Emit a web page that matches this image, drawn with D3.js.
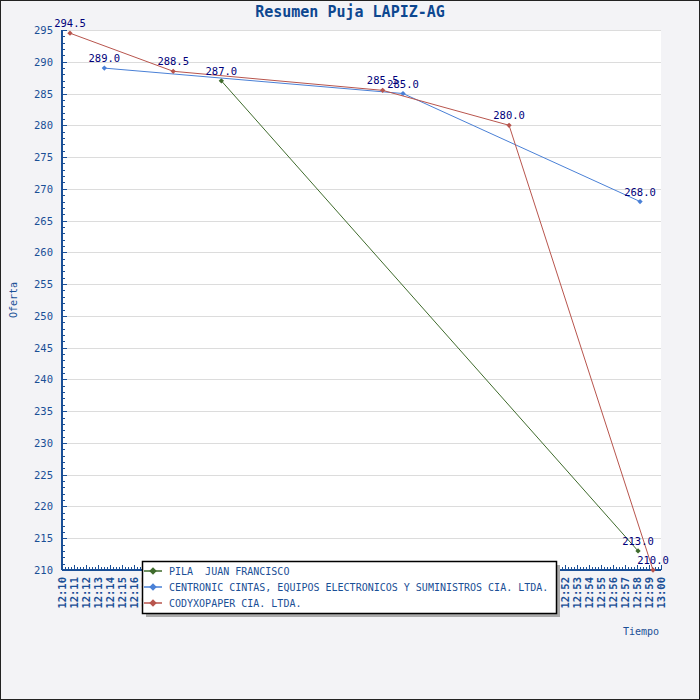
<!DOCTYPE html>
<html>
<head>
<meta charset="utf-8">
<script src="https://cdn.jsdelivr.net/npm/d3@7"></script>
<style>
  body { margin: 0; background: #fff; }
  text { font-family: "DejaVu Sans Mono", monospace; white-space: pre; }
</style>
</head>
<body>
<div id="chart"></div>
<script>
// series data (time of bid, amount)
const seriesNames = [
  'PILA  JUAN FRANCISCO',
  'CENTRONIC CINTAS, EQUIPOS ELECTRONICOS Y SUMINISTROS CIA. LTDA.',
  'CODYXOPAPER CIA. LTDA.'
]
const pilaTimes = ['12:23:18', '12:58:05']
const pilaValues = [287.0, 213.0]
const centronicTimes = ['12:13:32', '12:38:28', '12:58:15']
const centronicValues = [289.0, 285.0, 268.0]
const codyxoTimes = ['12:10:40', '12:19:17', '12:36:46', '12:47:19', '12:59:20']
const codyxoValues = [294.5, 288.5, 285.5, 280.0, 210.0]

const timeDomain = ['12:10:00', '13:00:00']
const valueDomain = [210, 295]

// config
const width = 700
const height = 700
const margin = { top: 30, right: 39, bottom: 130, left: 62 }
const colors = ['#3f6b2c', '#4a80d6', '#b8554d']
const axisColor = '#1a4f96'
const labelColor = '#00007a'

const parse = d3.timeParse('%H:%M:%S')
const series = [
  { times: pilaTimes, values: pilaValues },
  { times: centronicTimes, values: centronicValues },
  { times: codyxoTimes, values: codyxoValues }
].map((s, i) => ({
  name: seriesNames[i],
  color: colors[i],
  points: s.times.map((t, j) => ({ t: parse(t), v: s.values[j] }))
}))

const svg = d3.select('#chart').append('svg')
  .attr('width', width)
  .attr('height', height)

svg.append('rect')
  .attr('width', width).attr('height', height)
  .attr('fill', '#f3f3f6')
  .attr('stroke', '#222').attr('stroke-width', 2)

const x = d3.scaleTime()
  .domain(timeDomain.map(parse))
  .range([margin.left, width - margin.right])
const y = d3.scaleLinear()
  .domain(valueDomain)
  .range([height - margin.bottom, margin.top])

// plot area
svg.append('rect')
  .attr('x', margin.left).attr('y', margin.top)
  .attr('width', x.range()[1] - margin.left)
  .attr('height', y.range()[0] - margin.top)
  .attr('fill', '#fff')

// grid
svg.append('g')
  .selectAll('line')
  .data(d3.range(215, 296, 5))
  .join('line')
  .attr('x1', margin.left).attr('x2', x.range()[1])
  .attr('y1', d => Math.round(y(d)) + 0.5).attr('y2', d => Math.round(y(d)) + 0.5)
  .attr('stroke', '#dcdcdc')

// y axis
const yAxis = svg.append('g')
  .attr('transform', `translate(${margin.left},0)`)
yAxis.append('line')
  .attr('x1', 0).attr('x2', 0)
  .attr('y1', y.range()[1]).attr('y2', y.range()[0])
  .attr('stroke', axisColor).attr('stroke-width', 2)
yAxis.selectAll('line.tick')
  .data(d3.range(210, 296, 1))
  .join('line')
  .attr('class', 'tick')
  .attr('x1', 0).attr('x2', d => d % 5 === 0 ? 5 : 3)
  .attr('y1', d => Math.round(y(d)) + 0.5).attr('y2', d => Math.round(y(d)) + 0.5)
  .attr('stroke', axisColor)
yAxis.selectAll('text')
  .data(d3.range(210, 296, 5))
  .join('text')
  .attr('x', -9).attr('y', d => y(d) + 4)
  .attr('text-anchor', 'end')
  .attr('font-size', 10.5)
  .attr('fill', axisColor)
  .text(d => d)

// x axis
const xAxis = svg.append('g')
  .attr('transform', `translate(0,${y.range()[0]})`)
xAxis.append('line')
  .attr('x1', margin.left).attr('x2', x.range()[1])
  .attr('stroke', axisColor).attr('stroke-width', 2)
const minorTicks = d3.timeSecond.every(15).range(x.domain()[0], d3.timeSecond.offset(x.domain()[1], 1))
xAxis.selectAll('line.tick')
  .data(minorTicks)
  .join('line')
  .attr('class', 'tick')
  .attr('x1', d => Math.round(x(d)) + 0.5).attr('x2', d => Math.round(x(d)) + 0.5)
  .attr('y1', 0).attr('y2', d => d.getSeconds() === 0 ? -5 : -3)
  .attr('stroke', axisColor)
const majorTicks = d3.timeMinute.range(x.domain()[0], d3.timeSecond.offset(x.domain()[1], 1))
xAxis.selectAll('text')
  .data(majorTicks)
  .join('text')
  .attr('transform', d => `translate(${x(d) + 4},7) rotate(-90)`)
  .attr('text-anchor', 'end')
  .attr('font-size', 10.5)
  .attr('font-weight', 'bold')
  .attr('fill', axisColor)
  .text(d3.timeFormat('%H:%M'))

// axis titles
svg.append('text')
  .attr('transform', `translate(17,300) rotate(-90)`)
  .attr('text-anchor', 'middle')
  .attr('font-size', 10)
  .attr('fill', axisColor)
  .text('Oferta')
svg.append('text')
  .attr('x', 659).attr('y', 635)
  .attr('text-anchor', 'end')
  .attr('font-size', 10)
  .attr('fill', axisColor)
  .text('Tiempo')

// title
svg.append('text')
  .attr('x', 350).attr('y', 17)
  .attr('text-anchor', 'middle')
  .attr('font-size', 15)
  .attr('font-weight', 'bold')
  .attr('fill', '#0d4790')
  .text('Resumen Puja LAPIZ-AG')

// lines
const line = d3.line().x(d => x(d.t)).y(d => y(d.v))
const diamond = d3.symbol().type(d3.symbolDiamond)

series.forEach(s => {
  const g = svg.append('g')
  g.append('path')
    .datum(s.points)
    .attr('d', line)
    .attr('fill', 'none')
    .attr('stroke', s.color)
    .attr('stroke-width', 1)
  g.selectAll('path.mark')
    .data(s.points)
    .join('path')
    .attr('class', 'mark')
    .attr('d', d3.symbol().type(d3.symbolSquare).size(14))
    .attr('transform', d => `translate(${x(d.t)},${y(d.v)}) rotate(45)`)
    .attr('fill', s.color)
})

// value labels on top
series.forEach(s => {
  svg.append('g')
    .selectAll('text')
    .data(s.points)
    .join('text')
    .attr('x', d => x(d.t))
    .attr('y', d => y(d.v) - 6)
    .attr('text-anchor', 'middle')
    .attr('font-size', 10.5)
    .attr('fill', labelColor)
    .text(d => d.v.toFixed(1))
})

// legend
const legend = svg.append('g').attr('transform', 'translate(142,561)')
legend.append('rect')
  .attr('x', 4).attr('y', 4).attr('width', 414).attr('height', 52)
  .attr('fill', '#aaa')
legend.append('rect')
  .attr('x', 0.5).attr('y', 0.5).attr('width', 414).attr('height', 52)
  .attr('fill', '#fff').attr('stroke', '#000').attr('stroke-width', 1.5)
const items = legend.selectAll('g.item')
  .data(series)
  .join('g')
  .attr('class', 'item')
  .attr('transform', (d, i) => `translate(0,${10 + i * 16})`)
items.append('line')
  .attr('x1', 2).attr('x2', 20)
  .attr('stroke', d => d.color).attr('stroke-width', 1.5)
items.append('path')
  .attr('d', d3.symbol().type(d3.symbolSquare).size(28))
  .attr('transform', 'translate(11,0) rotate(45)')
  .attr('fill', d => d.color)
items.append('text')
  .attr('x', 27).attr('y', 4)
  .attr('font-size', 10)
  .attr('fill', axisColor)
  .text(d => d.name)
</script>
</body>
</html>
